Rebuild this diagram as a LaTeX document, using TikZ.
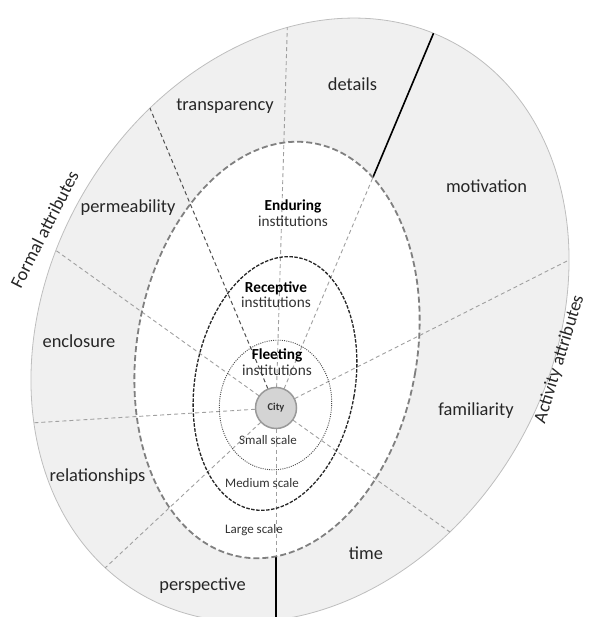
\documentclass[tikz,border=0pt]{standalone}
\usepackage{fontspec}
\setmainfont{Carlito}
\usepackage{xcolor}
\usepackage{tikz}
\usetikzlibrary{positioning}
\definecolor{ringgray}{RGB}{240,240,240}
\definecolor{edgegray}{RGB}{190,190,190}
\definecolor{spokegray}{RGB}{160,160,160}
\definecolor{darkspoke}{RGB}{80,80,80}
\definecolor{txtgray}{RGB}{38,38,38}
\definecolor{citygray}{RGB}{212,212,212}
\tikzset{
ring/.style = {fill=ringgray, draw=edgegray, line width=0.8pt},
spoke/.style = {draw=spokegray, line width=0.9pt, dash pattern=on 4pt off 3pt},
darkspoke/.style = {draw=darkspoke, line width=1pt, dash pattern=on 4pt off 3pt},
divider/.style = {draw=black, line width=1.6pt},
endur/.style = {draw=gray, line width=1.8pt, dash pattern=on 6pt off 3pt},
recep/.style = {draw=black!85, line width=1.3pt, dash pattern=on 3.5pt off 1.5pt},
fleet/.style = {draw=black!70, line width=0.9pt, dash pattern=on 1pt off 1.2pt},
citynode/.style = {draw=black!40, fill=citygray, circle, line width=1.5pt, minimum size=41pt, inner sep=0pt, font=\fontsize{10.5}{12}\selectfont\bfseries, text=black!80},
lbl/.style = {text=txtgray, font=\fontsize{18.4}{20}\selectfont, inner sep=0pt, text height=.47em, text depth=0pt},
title/.style = {text=black, font=\fontsize{15.3}{17}\selectfont\bfseries, inner sep=0pt, text height=.47em, text depth=0pt},
inst/.style = {text=black!80, font=\fontsize{15.3}{17}\selectfont, inner sep=0pt, text height=.47em, text depth=0pt},
scl/.style = {text=black!80, font=\fontsize{13}{15}\selectfont, inner sep=0pt, text height=.47em, text depth=0pt}
}

\begin{document}
\begin{tikzpicture}[x=1pt, y=1pt]
    \useasboundingbox (0,0) rectangle (589,617);
    \clip (0,0) rectangle (589,617);
    \coordinate (hub) at (276,209);

    % rings
    \draw [ring, rotate around={60:(300,297)}] (300,297) ellipse (317 and 251);
    \fill [white, rotate around={-10:(277,267)}] (277,267) ellipse (140 and 210);

    % spokes
    \begin{scope}
    \clip [rotate around={60:(300,297)}] (300,297) ellipse (317 and 251);
    \foreach \a in {88.3,67.2,26.8,-35.5,-90,223.1,183.5,144.4}
        \draw [spoke] (hub) -- ++(\a:700);
    \draw [darkspoke] (hub) -- ++(112.8:700);
    \draw [divider] (hub) ++(67.2:250) -- ++(67.2:400);
    \draw [divider] (hub) ++(-90:148.4) -- ++(-90:200);
    \end{scope}

    \draw [endur, rotate around={-10:(277,267)}] (277,267) ellipse (140 and 210);
    \draw [recep, rotate around={-10:(275,233.5)}] (275,233.5) ellipse (80 and 128);
    \draw [fleet, rotate around={-8:(275.5,212)}] (275.5,212) ellipse (56 and 65);
    \node [citynode] (city) at (hub) {City};

    % institutions
    \node [title] (endu) at (293,409) {Enduring};
    \node [inst, below=11.5pt of endu] (endinst) {institutions};
    \node [title] (recv) at (276,327) {Receptive};
    \node [inst, below=10pt of recv] (recinst) {institutions};
    \node [title] (fleet) at (277,260) {Fleeting};
    \node [inst, below=11pt of fleet] (fleinst) {institutions};

    % scales
    \node [scl] (small) at (268,175) {Small scale};
    \node [scl] (medium) at (262,132) {Medium scale};
    \node [scl] (large) at (254,86) {Large scale};

    % attributes
    \node [lbl] (transp) at (225,509) {transparency};
    \node [lbl] (details) at (352.5,529) {details};
    \node [lbl] (motiv) at (486.5,427) {motivation};
    \node [lbl] (perm) at (128,407) {permeability};
    \node [lbl] (encl) at (79,272) {enclosure};
    \node [lbl] (relat) at (97.5,138) {relationships};
    \node [lbl] (persp) at (202.5,29) {perspective};
    \node [lbl] (time) at (366,60) {time};
    \node [lbl] (famil) at (476,204) {familiarity};
    \node [lbl, rotate=63] (formal) at (48,386) {Formal attributes};
    \node [lbl, rotate=73] (activ) at (562,257) {Activity attributes};
\end{tikzpicture}
\end{document}
